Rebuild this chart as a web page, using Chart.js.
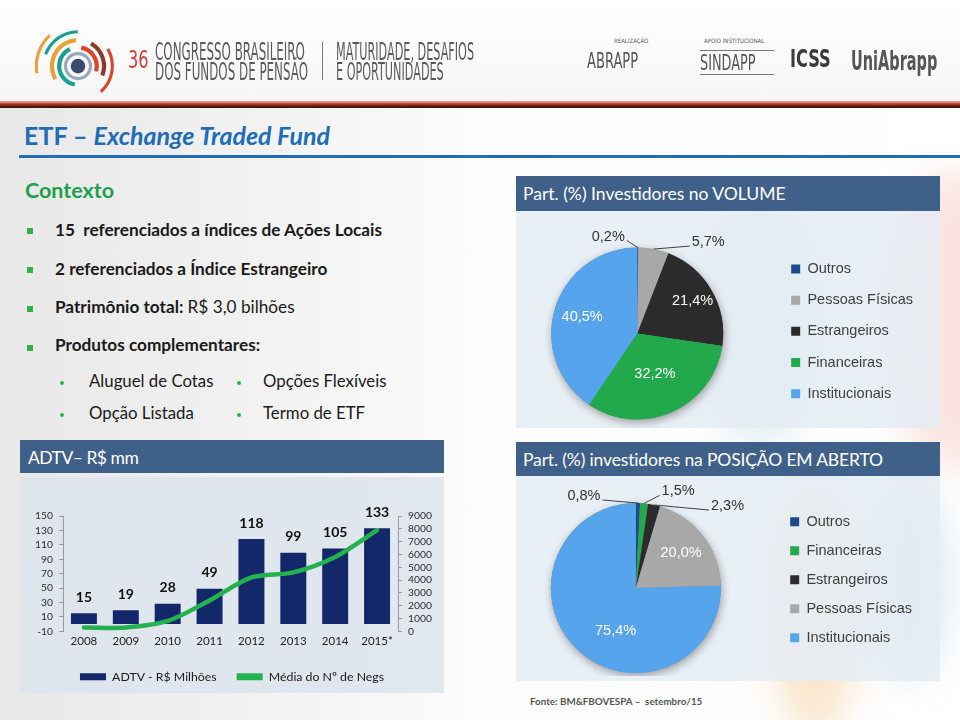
<!DOCTYPE html>
<html lang="pt-BR">
<head>
<meta charset="utf-8">
<title>ETF – Exchange Traded Fund</title>
<script src="https://cdn.jsdelivr.net/npm/chart.js@4.4.1/dist/chart.umd.min.js"></script>
<style>
  body { margin:0; width:960px; height:720px; position:relative; overflow:hidden;
         font-family: Lato, "Open Sans", sans-serif; color:#1a1a1a;
         background: linear-gradient(90deg, #e8e8e8 0%, #f3f3f3 30%, #fcfcfc 50%, #ffffff 100%); }
  .abs { position:absolute; white-space:nowrap; line-height:1; }
  .blob { position:absolute; border-radius:50%; filter:blur(18px); }
  .logo { font-family:"DejaVu Sans Condensed","DejaVu Sans",sans-serif; color:#5a5a5a; transform-origin:0 0; }
  .box { position:absolute; background:#3f6189; color:#fff; }
  .boxt { position:absolute; color:#fff; font-size:17.5px; white-space:nowrap; line-height:1; }
  .panel { position:absolute; }
  .sq { position:absolute; width:6px; height:6px; background:#2fb24c; }
  .dot { position:absolute; width:4px; height:4px; border-radius:50%; background:#2fb24c; }
  .b { font-size:17.2px; font-weight:700; }
  .s { font-size:16.8px; }
</style>
</head>
<body>
<!-- faint background decoration -->
<div class="blob" style="left:885px;top:170px;width:140px;height:300px;background:rgba(235,120,95,0.2)"></div>
<div class="blob" style="left:700px;top:190px;width:120px;height:260px;background:rgba(150,200,225,0.25)"></div>
<div class="blob" style="left:770px;top:480px;width:90px;height:260px;background:rgba(240,170,80,0.28)"></div>
<div class="blob" style="left:870px;top:480px;width:80px;height:200px;background:rgba(120,170,210,0.25)"></div>

<!-- header -->
<div class="abs" style="left:0;top:0;width:960px;height:101px;background:linear-gradient(180deg,#ffffff 0%,#f6f6f6 100%)"></div>
<svg class="abs" style="left:28px;top:14px" width="100" height="100" viewBox="0 0 90 96">
  <circle cx="45" cy="50" r="7" fill="#3a4a70"/>
  <circle cx="45" cy="50" r="12" fill="none" stroke="#9aa6bd" stroke-width="3"/>
  <circle cx="45" cy="50" r="18" fill="none" stroke="#1a9e8f" stroke-width="4" stroke-dasharray="45 68" transform="rotate(100 45 50)"/>
  <circle cx="45" cy="50" r="18" fill="none" stroke="#d9452b" stroke-width="4" stroke-dasharray="30 83" transform="rotate(280 45 50)"/>
  <circle cx="45" cy="50" r="25" fill="none" stroke="#e8a23a" stroke-width="4" stroke-dasharray="50 107" transform="rotate(150 45 50)"/>
  <circle cx="45" cy="50" r="25" fill="none" stroke="#8b3a2a" stroke-width="4" stroke-dasharray="35 122" transform="rotate(300 45 50)"/>
  <circle cx="45" cy="50" r="33" fill="none" stroke="#1a9e8f" stroke-width="3" stroke-dasharray="40 167" transform="rotate(200 45 50)"/>
  <circle cx="45" cy="50" r="33" fill="none" stroke="#d9452b" stroke-width="3" stroke-dasharray="45 162" transform="rotate(330 45 50)"/>
  <circle cx="45" cy="50" r="40" fill="none" stroke="#e8a23a" stroke-width="3" stroke-dasharray="40 211" transform="rotate(170 45 50)"/>
</svg>
<div class="abs logo" style="left:128px;top:48px;font-size:24px;color:#d2403a;transform:scaleX(0.75)">36</div>
<div class="abs logo" style="left:155px;top:40px;font-size:24px;transform:scaleX(0.55)">CONGRESSO BRASILEIRO</div>
<div class="abs logo" style="left:155px;top:60px;font-size:24px;transform:scaleX(0.55)">DOS FUNDOS DE PENSÃO</div>
<div class="abs" style="left:322px;top:42px;width:1px;height:38px;background:#777"></div>
<div class="abs logo" style="left:336px;top:40px;font-size:24px;transform:scaleX(0.52)">MATURIDADE, DESAFIOS</div>
<div class="abs logo" style="left:336px;top:60px;font-size:24px;transform:scaleX(0.52)">E OPORTUNIDADES</div>
<div class="abs logo" style="left:614px;top:38px;font-size:6px">REALIZAÇÃO</div>
<div class="abs logo" style="left:587px;top:50px;font-size:22px;color:#555;transform:scaleX(0.66)">ABRAPP</div>
<div class="abs logo" style="left:704px;top:38px;font-size:6px">APOIO INSTITUCIONAL</div>
<div class="abs" style="left:700px;top:50px;width:74px;height:1px;background:#777"></div>
<div class="abs logo" style="left:700px;top:53px;font-size:21px;color:#555;transform:scaleX(0.68)">SINDAPP</div>
<div class="abs" style="left:700px;top:74px;width:74px;height:1px;background:#777"></div>
<div class="abs logo" style="left:790px;top:46px;font-size:25px;font-weight:700;color:#3a3a3a;transform:scaleX(0.72)">ICSS</div>
<div class="abs logo" style="left:851px;top:48px;font-size:26px;font-weight:700;color:#555;transform:scaleX(0.62)">UniAbrapp</div>
<div class="abs" style="left:0;top:101px;width:960px;height:7px;background:linear-gradient(180deg,#f0b8a4 0%,#c2402c 40%,#5a1a10 75%,#2e120c 100%)"></div>

<!-- title -->
<div class="abs" style="left:24px;top:122.8px;font-size:25px;font-weight:700;color:#1f6db5">ETF – <i>Exchange Traded Fund</i></div>
<div class="abs" style="left:19px;top:155px;width:941px;height:2.5px;background:#1f6db5"></div>

<div class="abs" style="left:25px;top:180px;font-size:21.5px;font-weight:700;color:#1ba04b">Contexto</div>

<div class="sq" style="left:27px;top:228px"></div>
<div class="abs b" style="left:55px;top:221.4px">15&nbsp; referenciados a índices de Ações Locais</div>
<div class="sq" style="left:27px;top:267px"></div>
<div class="abs b" style="left:55px;top:259.7px">2 referenciados a Índice Estrangeiro</div>
<div class="sq" style="left:27px;top:306px"></div>
<div class="abs b" style="left:55px;top:298px">Patrimônio total: <span style="font-weight:400">R$ 3,0 bilhões</span></div>
<div class="sq" style="left:27px;top:345px"></div>
<div class="abs b" style="left:55px;top:336.4px">Produtos complementares:</div>

<div class="dot" style="left:60px;top:381px"></div>
<div class="abs s" style="left:89px;top:373.4px">Aluguel de Cotas</div>
<div class="dot" style="left:237px;top:381px"></div>
<div class="abs s" style="left:263px;top:373.4px">Opções Flexíveis</div>
<div class="dot" style="left:60px;top:413px"></div>
<div class="abs s" style="left:89px;top:405.1px">Opção Listada</div>
<div class="dot" style="left:237px;top:413px"></div>
<div class="abs s" style="left:263px;top:405.1px">Termo de ETF</div>

<!-- panels -->
<div class="box" style="left:20px;top:440px;width:424px;height:33px"></div>
<div class="boxt" style="left:28px;top:449.2px;letter-spacing:-0.5px">ADTV– R$ mm</div>
<div class="panel" style="left:20px;top:477px;width:424px;height:216px;background:rgba(222,228,236,0.9)"></div>

<div class="box" style="left:516px;top:176px;width:424px;height:35px"></div>
<div class="boxt" style="left:523px;top:185.2px">Part. (%) Investidores no VOLUME</div>
<div class="panel" style="left:516px;top:211px;width:424px;height:217px;background:rgba(228,236,243,0.85)"></div>

<div class="box" style="left:516px;top:442px;width:424px;height:34px"></div>
<div class="boxt" style="left:523px;top:451.2px;letter-spacing:-0.15px">Part. (%) investidores na POSIÇÃO EM ABERTO</div>
<div class="panel" style="left:516px;top:476px;width:424px;height:205px;background:rgba(228,236,243,0.85)"></div>

<div class="abs" style="left:530px;top:697px;font-size:9.8px;font-weight:700;color:#555">Fonte: BM&amp;FBOVESPA –&nbsp; setembro/15</div>

<canvas id="adtv" class="abs" style="left:20px;top:477px" width="424" height="216"></canvas>
<canvas id="volume" class="abs" style="left:500px;top:211px" width="440" height="217"></canvas>
<canvas id="posicao" class="abs" style="left:496px;top:476px" width="444" height="200"></canvas>

<script>
// ADTV por ano (R$ milhões) e média do número de negócios
const years = ['2008', '2009', '2010', '2011', '2012', '2013', '2014', '2015*']
const adtv = [15, 19, 28, 49, 118, 99, 105, 133]
const negocios = [290, 290, 800, 2400, 4200, 4600, 5800, 7900]

// participação (%) por tipo de investidor
const volumeLabels = ['Outros', 'Pessoas Físicas', 'Estrangeiros', 'Financeiras', 'Institucionais']
const volumeValues = [0.2, 5.7, 21.4, 32.2, 40.5]
const posicaoLabels = ['Outros', 'Financeiras', 'Estrangeiros', 'Pessoas Físicas', 'Institucionais']
const posicaoValues = [0.8, 1.5, 2.3, 20.0, 75.4]

const cores = {
    'Outros': '#1f4a8a',
    'Pessoas Físicas': '#a8a8a8',
    'Estrangeiros': '#2b2b2b',
    'Financeiras': '#21a94b',
    'Institucionais': '#55a4ec'
}

Chart.defaults.font.family = 'Lato, "Open Sans", sans-serif'
Chart.defaults.animation = false

const barValues = {
    id: 'barValues',
    afterDatasetsDraw(chart) {
        const ctx = chart.ctx
        const meta = chart.getDatasetMeta(0)
        ctx.save()
        ctx.font = '700 14px Lato'
        ctx.fillStyle = '#111'
        ctx.textAlign = 'center'
        ctx.textBaseline = 'middle'
        meta.data.forEach((bar, i) => ctx.fillText(String(adtv[i]), bar.x, bar.y - 16))
        ctx.restore()
    }
}

const axisGray = '#9a9a9a'
new Chart(document.getElementById('adtv'), {
    type: 'bar',
    data: {
        labels: years,
        datasets: [
            { label: 'ADTV - R$ Milhões', data: adtv, yAxisID: 'y', backgroundColor: '#13276b',
              barPercentage: 0.62, categoryPercentage: 1, order: 1 },
            { type: 'line', label: 'Média do Nº de Negs', data: negocios, yAxisID: 'y1',
              borderColor: '#24b24e', backgroundColor: '#24b24e', borderWidth: 4.5,
              pointRadius: 0, tension: 0.3, borderCapStyle: 'round', order: 0 }
        ]
    },
    options: {
        responsive: false,
        layout: { padding: { top: 39, left: 0, right: 0, bottom: 0 } },
        plugins: {
            tooltip: { enabled: false },
            legend: {
                position: 'bottom',
                labels: {
                    boxWidth: 26, boxHeight: 7, padding: 20, color: '#1a1a1a',
                    font: { size: 12.3 },
                    sort: (a, b) => a.datasetIndex - b.datasetIndex,
                    generateLabels(chart) {
                        const items = Chart.defaults.plugins.legend.labels.generateLabels(chart)
                        items.forEach(it => { it.lineWidth = 0 })
                        return items
                    }
                }
            }
        },
        scales: {
            x: {
                grid: { display: false, drawTicks: false },
                border: { display: false },
                ticks: { color: '#222', font: { size: 11.5 }, padding: 3 },
                afterFit(s) { s.height = 19.5 }
            },
            y: {
                position: 'left', min: -10, max: 150,
                ticks: { stepSize: 20, autoSkip: false, color: '#2a2a2a', font: { size: 10.3 }, padding: 6 },
                grid: { color: c => c.tick && c.tick.value === 0 ? axisGray : 'transparent',
                        tickColor: axisGray, tickLength: 4 },
                border: { color: axisGray },
                afterFit(s) { s.width = 43 }
            },
            y1: {
                position: 'right', min: 0, max: 9000,
                ticks: { stepSize: 1000, autoSkip: false, color: '#2a2a2a', font: { size: 10.3 }, padding: 6,
                         callback: v => String(v) },
                grid: { drawOnChartArea: false, tickColor: axisGray, tickLength: 4 },
                border: { color: axisGray },
                afterFit(s) { s.width = 46 }
            }
        }
    },
    plugins: [barValues]
})

const pieShadow = {
    id: 'pieShadow',
    beforeDatasetsDraw(chart) {
        const arc = chart.getDatasetMeta(0).data[0]
        const ctx = chart.ctx
        ctx.save()
        ctx.shadowColor = 'rgba(0,0,0,0.35)'
        ctx.shadowBlur = 8
        ctx.shadowOffsetY = 3
        ctx.shadowOffsetX = 1
        ctx.fillStyle = '#888'
        ctx.beginPath()
        ctx.arc(arc.x, arc.y, arc.outerRadius, 0, Math.PI * 2)
        ctx.fill()
        ctx.restore()
    }
}

const sliceLabels = {
    id: 'sliceLabels',
    afterDatasetsDraw(chart, args, opts) {
        const ctx = chart.ctx
        const meta = chart.getDatasetMeta(0)
        const values = chart.data.datasets[0].data
        ctx.save()
        ctx.font = '14.5px "Liberation Sans", Arial, sans-serif'
        ctx.textAlign = 'center'
        ctx.textBaseline = 'middle'
        meta.data.forEach((arc, i) => {
            const spec = opts.specs[i]
            const mid = (arc.startAngle + arc.endAngle) / 2
            const text = values[i].toFixed(1).replace('.', ',') + '%'
            if (spec.out) {
                const ex = arc.x + Math.cos(mid) * arc.outerRadius
                const ey = arc.y + Math.sin(mid) * arc.outerRadius
                const lx = ex + spec.dx
                const ly = ey + spec.dy
                const w = ctx.measureText(text).width
                const sx = spec.dx < 0 ? lx + w / 2 + 2 : lx - w / 2 - 2
                ctx.strokeStyle = '#404040'
                ctx.lineWidth = 1
                ctx.beginPath()
                ctx.moveTo(sx, ly + 4)
                ctx.lineTo(ex, ey)
                ctx.stroke()
                ctx.fillStyle = '#333'
                ctx.fillText(text, lx, ly)
            } else {
                const r = arc.outerRadius * spec.r
                ctx.fillStyle = '#fff'
                ctx.fillText(text, arc.x + Math.cos(mid) * r + (spec.dx || 0),
                    arc.y + Math.sin(mid) * r + (spec.dy || 0))
            }
        })
        ctx.restore()
    }
}

function pieChart(id, labels, values, radius, padding, legendPadding, specs) {
    return new Chart(document.getElementById(id), {
        type: 'pie',
        data: {
            labels: labels,
            datasets: [{ data: values, backgroundColor: labels.map(l => cores[l]), borderWidth: 0, radius: radius }]
        },
        options: {
            responsive: false,
            layout: { padding: padding },
            plugins: {
                tooltip: { enabled: false },
                legend: {
                    position: 'right', align: 'start',
                    labels: { boxWidth: 9, boxHeight: 9, padding: legendPadding, color: '#404040',
                              font: { family: '"Liberation Sans", Arial, sans-serif', size: 14.5 } }
                },
                sliceLabels: { specs: specs }
            }
        },
        plugins: [pieShadow, sliceLabels]
    })
}

pieChart('volume', volumeLabels, volumeValues, 86,
    { top: 34, bottom: 6, left: 0, right: 17 }, 16.7,
    [{ out: true, dx: -29.5, dy: -11 }, { out: true, dx: 54.6, dy: -7 },
     { r: 0.745 }, { r: 0.51 }, { r: 0.67 }])

pieChart('posicao', posicaoLabels, posicaoValues, 85,
    { top: 24, bottom: 0, left: 0, right: 18 }, 14.5,
    [{ out: true, dx: -54, dy: -7 }, { out: true, dx: 34, dy: -12 }, { out: true, dx: 73.4, dy: 1 },
     { r: 0.67 }, { r: 0.56, dx: 13, dy: 9 }])
</script>
</body>
</html>
